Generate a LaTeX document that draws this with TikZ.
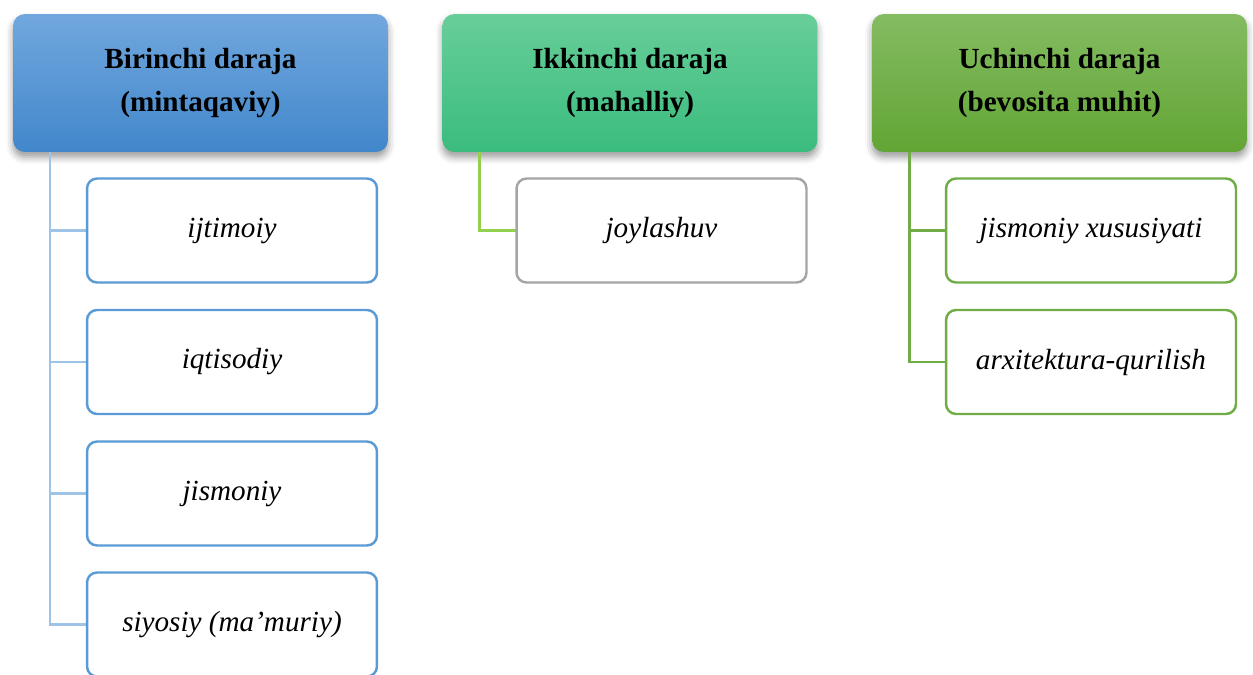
\documentclass[tikz,border=0pt]{standalone}
\usepackage{fontspec}
\setmainfont{Liberation Serif}
\usetikzlibrary{shadows.blur}

\definecolor{topblueA}{RGB}{113,167,222}
\definecolor{topblueB}{RGB}{66,135,203}
\definecolor{topgreenA}{RGB}{104,206,153}
\definecolor{topgreenB}{RGB}{58,188,126}
\definecolor{topoliveA}{RGB}{132,188,98}
\definecolor{topoliveB}{RGB}{98,165,52}
\definecolor{edgeblue}{RGB}{91,155,213}
\definecolor{edgegray}{RGB}{165,165,165}
\definecolor{edgegreen}{RGB}{112,173,71}
\definecolor{lineblue}{RGB}{157,195,230}
\definecolor{linelime}{RGB}{146,208,80}

\tikzset{
    levelbox/.style={rounded corners=0.24cm, minimum width=7.5cm, minimum height=2.76cm,
        inner sep=0pt, align=center, font=\bfseries\fontsize{16.6}{25}\selectfont,
        blur shadow={shadow xshift=0pt, shadow yshift=-3pt, shadow blur radius=4pt, shadow opacity=40}},
    itembox/.style={draw=#1, line width=1.4pt, fill=white, rounded corners=0.2cm,
        minimum width=5.8cm, minimum height=2.08cm, inner sep=0pt,
        font=\itshape\fontsize{16.6}{20}\selectfont},
    link/.style={draw=#1, line width=1.7pt}
}

\begin{document}
\begin{tikzpicture}[x=0.02cm, y=-0.02cm]
        \useasboundingbox (0,0) rectangle (1253,675);
        %% Levels
        \node[levelbox, top color=topblueA, bottom color=topblueB] (lvlA) at (200.5,83) {Birinchi daraja\\(mintaqaviy)};
        \node[levelbox, top color=topgreenA, bottom color=topgreenB] (lvlB) at (630,83) {Ikkinchi daraja\\(mahalliy)};
        \node[levelbox, top color=topoliveA, bottom color=topoliveB] (lvlC) at (1059.5,83) {Uchinchi daraja\\(bevosita muhit)};
        %% Stems
        \coordinate (stemA) at (50,152);
        \coordinate (stemB) at (479,152);
        \coordinate (stemC) at (909,152);
        %% First column
        \foreach \n/\y/\t in {1/230.5/ijtimoiy, 2/362/iqtisodiy, 3/493.5/jismoniy, 4/624.5/{siyosiy (ma’muriy)}} {
            \draw[link=lineblue] (stemA) |- (232,\y);
            \node[itembox=edgeblue] (itemA\n) at (232,\y) {\t};
        }
        %% Second column
        \draw[link=linelime] (stemB) |- (661.5,230.5);
        \node[itembox=edgegray] (itemB1) at (661.5,230.5) {joylashuv};
        %% Third column
        \foreach \n/\y/\t in {1/230.5/jismoniy xususiyati, 2/362/arxitektura-qurilish} {
            \draw[link=edgegreen] (stemC) |- (1091,\y);
            \node[itembox=edgegreen] (itemC\n) at (1091,\y) {\t};
        }
    \end{tikzpicture}
\end{document}
